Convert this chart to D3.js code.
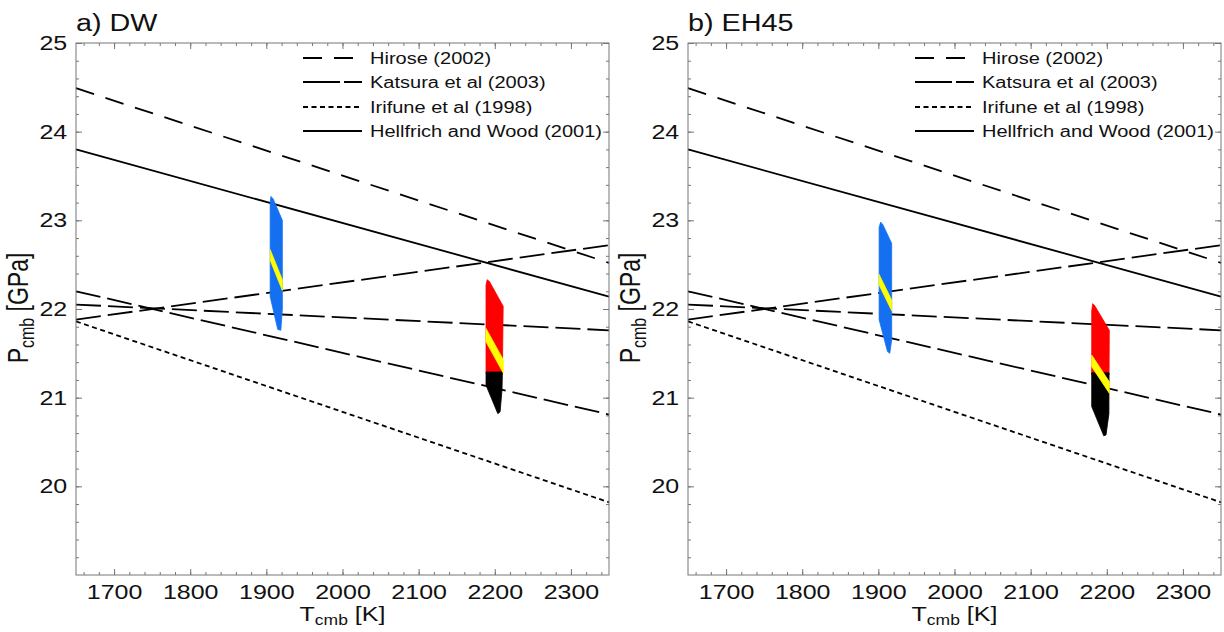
<!DOCTYPE html>
<html>
<head>
<meta charset="utf-8">
<script src="https://cdn.jsdelivr.net/npm/d3@7"></script>
<style>
  body { margin: 0; background: #fff; }
  text { font-family: "Liberation Sans", Arial, sans-serif; fill: #111; }
</style>
</head>
<body>
<svg id="chart" width="1224" height="632"></svg>
<script>

// axes
var tDomain = [1650, 2350];
var pDomain = [19, 25];
var tTicks = [1700, 1800, 1900, 2000, 2100, 2200, 2300];
var pTicks = [20, 21, 22, 23, 24, 25];

// phase boundary lines, P at T = 1650 and T = 2350
var lineT = [1650, 2350];
var hirose = [24.49, 22.52];
var katsuraUp = [21.88, 22.72];
var katsuraFlat = [22.05, 21.76];
var katsuraDown = [22.20, 20.81];
var irifune = [21.86, 19.82];
var hellfrich = [23.80, 22.14];

var legendNames = ["Hirose (2002)", "Katsura et al (2003)", "Irifune et al (1998)", "Hellfrich and Wood (2001)"];

// solution clouds [T, P]
var blueA = [[1906, 23.27], [1909, 23.24], [1921, 23.0], [1921, 22.0], [1919, 21.76], [1915, 21.77], [1905, 22.14], [1905, 23.2]];
var blueYellowA = [[1905, 22.67], [1921, 22.33], [1921, 22.21], [1905, 22.55]];
var redA = [[2190, 22.33], [2193, 22.31], [2211, 22.03], [2210, 21.27], [2188.5, 21.27], [2188.5, 22.27]];
var blackA = [[2188.5, 21.29], [2210, 21.29], [2209.5, 21.09], [2207, 20.84], [2204, 20.82], [2188.5, 21.14]];
var redYellowA = [[2188.5, 21.78], [2211, 21.43], [2211, 21.28], [2188.5, 21.63]];

var blueB = [[1903, 22.98], [1906, 22.95], [1917.5, 22.74], [1917.5, 21.65], [1915, 21.5], [1912, 21.52], [1901, 21.88], [1901, 22.92]];
var blueYellowB = [[1901, 22.39], [1917.5, 22.10], [1917.5, 21.98], [1901, 22.27]];
var redB = [[2181.5, 22.06], [2184, 22.04], [2203.3, 21.76], [2203, 21.26], [2180.2, 21.26], [2180.2, 21.98]];
var blackB = [[2180.2, 21.28], [2203, 21.28], [2202.8, 20.82], [2199, 20.58], [2196, 20.57], [2180.2, 20.9]];
var redYellowB = [[2180.2, 21.48], [2203.3, 21.18], [2203.3, 21.05], [2180.2, 21.35]];

var SX = 1.25;   // picture is stretched sideways
var blue = "#1470f0", red = "#ff0000", yellow = "#ffff00";

var lines = [
  { p: hirose, dash: "19,12" },
  { p: katsuraUp, dash: "25,7" },
  { p: katsuraFlat, dash: "25,7" },
  { p: katsuraDown, dash: "25,7" },
  { p: irifune, dash: "5,3.5" },
  { p: hellfrich, dash: null }
];
var legendDash = ["19,12", "37,4,18,4", "5,3.5", null];

var panels = [
  { title: "a) DW", left: 76, clouds: [[blueA, blue], [blueYellowA, yellow], [redA, red], [blackA, "#000"], [redYellowA, yellow]] },
  { title: "b) EH45", left: 688, clouds: [[blueB, blue], [blueYellowB, yellow], [redB, red], [blackB, "#000"], [redYellowB, yellow]] }
];

var W = 533, plotTop = 43, plotBottom = 575;
var svg = d3.select("#chart");

panels.forEach(function (pan) {
  var g = svg.append("g");
  var x = d3.scaleLinear().domain(tDomain).range([pan.left, pan.left + W]);
  var y = d3.scaleLinear().domain(pDomain).range([plotBottom, plotTop]);

  var tMinor = d3.range(1660, 2350, 20);
  var pMinor = d3.range(19.2, 24.9, 0.2);

  // minor ticks, all four sides
  g.append("g").attr("transform", "translate(0," + plotBottom + ")")
    .call(d3.axisBottom(x).tickValues(tMinor).tickSize(-3).tickSizeOuter(0).tickFormat(""));
  g.append("g").attr("transform", "translate(0," + plotTop + ")")
    .call(d3.axisTop(x).tickValues(tMinor).tickSize(-3).tickSizeOuter(0).tickFormat(""));
  g.append("g").attr("transform", "translate(" + pan.left + ",0)")
    .call(d3.axisLeft(y).tickValues(pMinor).tickSize(-3).tickSizeOuter(0).tickFormat(""));
  g.append("g").attr("transform", "translate(" + (pan.left + W) + ",0)")
    .call(d3.axisRight(y).tickValues(pMinor).tickSize(-3).tickSizeOuter(0).tickFormat(""));

  // major ticks
  var xa = g.append("g").attr("transform", "translate(0," + plotBottom + ")")
    .call(d3.axisBottom(x).tickValues(tTicks).tickSize(-6).tickSizeOuter(0).tickPadding(10).tickFormat(d3.format("d")));
  g.append("g").attr("transform", "translate(0," + plotTop + ")")
    .call(d3.axisTop(x).tickValues(tTicks).tickSize(-6).tickSizeOuter(0).tickFormat(""));
  var ya = g.append("g").attr("transform", "translate(" + pan.left + ",0)")
    .call(d3.axisLeft(y).tickValues(pTicks).tickSize(-6).tickSizeOuter(0).tickPadding(7).tickFormat(d3.format("d")));
  g.append("g").attr("transform", "translate(" + (pan.left + W) + ",0)")
    .call(d3.axisRight(y).tickValues(pTicks).tickSize(-6).tickSizeOuter(0).tickFormat(""));

  g.selectAll(".domain").remove();
  g.selectAll(".tick line").attr("stroke", "#777");
  [xa, ya].forEach(function (a) {
    a.attr("font-size", 20).attr("font-family", null);
    a.selectAll("text").attr("fill", "#111").attr("transform", "scale(" + SX + ",1)");
  });

  // phase lines
  var line = d3.line()
    .x(function (d) { return x(d[0]); })
    .y(function (d) { return y(d[1]); });

  lines.forEach(function (s) {
    g.append("path")
      .datum(lineT.map(function (t, i) { return [t, s.p[i]]; }))
      .attr("d", line)
      .attr("fill", "none")
      .attr("stroke", "#000")
      .attr("stroke-width", 1.8)
      .attr("stroke-dasharray", s.dash);
  });

  // clouds
  var poly = d3.line()
    .x(function (d) { return x(d[0]); })
    .y(function (d) { return y(d[1]); })
    .curve(d3.curveLinearClosed);
  pan.clouds.forEach(function (c) {
    g.append("path").attr("d", poly(c[0])).attr("fill", c[1]).attr("stroke", c[1]).attr("stroke-width", 0.8);
  });

  // box
  g.append("rect")
    .attr("x", pan.left).attr("y", plotTop)
    .attr("width", W).attr("height", plotBottom - plotTop)
    .attr("fill", "none").attr("stroke", "#777").attr("stroke-width", 1);

  // legend
  var rowY = [58, 82, 107, 131];
  legendNames.forEach(function (name, i) {
    g.append("line")
      .attr("x1", pan.left + 227).attr("x2", pan.left + 286)
      .attr("y1", rowY[i]).attr("y2", rowY[i])
      .attr("stroke", "#000").attr("stroke-width", 1.8)
      .attr("stroke-dasharray", legendDash[i]);
    g.append("text")
      .attr("transform", "translate(" + (pan.left + 294) + "," + (rowY[i] + 6) + ") scale(" + SX + ",1)")
      .attr("font-size", 16)
      .text(name);
  });

  // title
  g.append("text")
    .attr("transform", "translate(" + pan.left + ",31) scale(" + SX + ",1)")
    .attr("font-size", 23)
    .text(pan.title);

  // axis labels
  var xl = g.append("text")
    .attr("transform", "translate(" + (pan.left + W / 2) + ",621) scale(" + SX + ",1)")
    .attr("text-anchor", "middle")
    .attr("font-size", 20);
  xl.append("tspan").text("T");
  xl.append("tspan").attr("font-size", 14).attr("dy", 4).text("cmb");
  xl.append("tspan").attr("dy", -4).text(" [K]");

  var yl = g.append("text")
    .attr("transform", "translate(" + (pan.left - 48) + ",308) rotate(-90) scale(1," + SX + ")")
    .attr("text-anchor", "middle")
    .attr("font-size", 23);
  yl.append("tspan").text("P");
  yl.append("tspan").attr("font-size", 16).attr("dy", 5).text("cmb");
  yl.append("tspan").attr("dy", -5).text(" [GPa]");
});

</script>
</body>
</html>
